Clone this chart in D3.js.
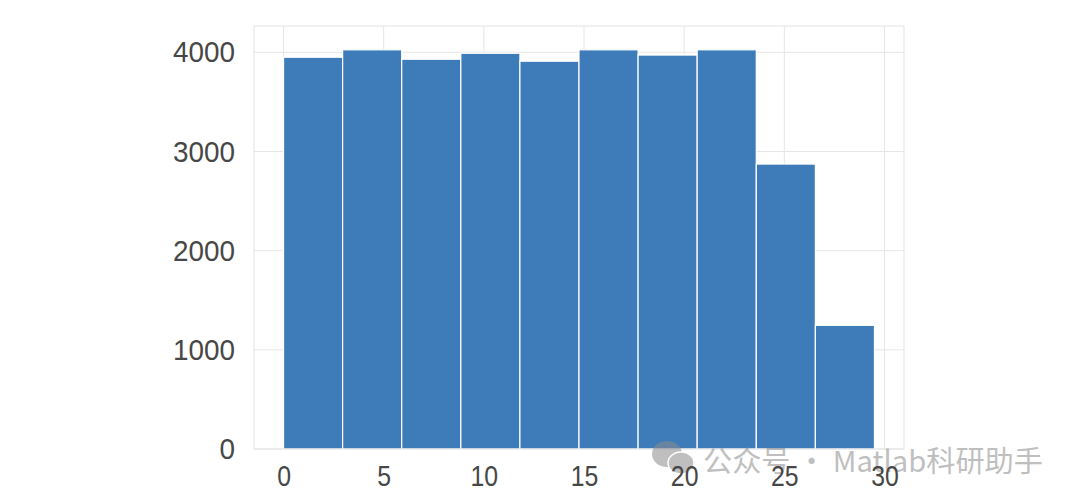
<!DOCTYPE html>
<html>
<head>
<meta charset="utf-8">
<script src="https://cdn.jsdelivr.net/npm/d3@7"></script>
<style>
  body { margin: 0; background: #fff; }
  svg { display: block; }
</style>
</head>
<body>
<svg id="chart"></svg>
<script>
var width = 1080,
    height = 504;

// histogram: 10 bins from 0 to 29.5
var binEdges = [0, 2.95, 5.9, 8.85, 11.8, 14.75, 17.7, 20.65, 23.6, 26.55, 29.5];
var counts = [3950, 4025, 3930, 3990, 3910, 4025, 3972, 4025, 2873, 1247];
var xTicks = [0, 5, 10, 15, 20, 25, 30];
var yTicks = [0, 1000, 2000, 3000, 4000];

var margin = {top: 26, right: 176, bottom: 55, left: 254};
var pw = width - margin.left - margin.right,
    ph = height - margin.top - margin.bottom;

var svg = d3.select("#chart")
    .attr("width", width)
    .attr("height", height);

var g = svg.append("g")
    .attr("transform", "translate(" + margin.left + "," + margin.top + ")");

// matplotlib-like 5% margin on x
var xr = binEdges[binEdges.length - 1] - binEdges[0];
var xScale = d3.scaleLinear()
    .domain([binEdges[0] - 0.05 * xr, binEdges[binEdges.length - 1] + 0.05 * xr])
    .range([0, pw]);
var yScale = d3.scaleLinear()
    .domain([0, 4265])
    .range([ph, 0]);

// grid
g.append("g").selectAll("line")
    .data(xTicks)
    .enter().append("line")
    .attr("x1", function(d) { return xScale(d); })
    .attr("x2", function(d) { return xScale(d); })
    .attr("y1", 0).attr("y2", ph)
    .style("stroke", "#e6e6e6").style("stroke-width", 1);

g.append("g").selectAll("line")
    .data(yTicks)
    .enter().append("line")
    .attr("y1", function(d) { return yScale(d); })
    .attr("y2", function(d) { return yScale(d); })
    .attr("x1", 0).attr("x2", pw)
    .style("stroke", "#e6e6e6").style("stroke-width", 1);

// bars
g.append("g").selectAll("rect")
    .data(counts)
    .enter().append("rect")
    .attr("x", function(d, i) { return xScale(binEdges[i]); })
    .attr("width", function(d, i) { return xScale(binEdges[i + 1]) - xScale(binEdges[i]); })
    .attr("y", function(d) { return yScale(d); })
    .attr("height", function(d) { return ph - yScale(d); })
    .style("fill", "#3e7cb9")
    .style("stroke", "#ffffff")
    .style("stroke-width", 1.2);

// frame
g.append("rect")
    .attr("x", 0).attr("y", 0)
    .attr("width", pw).attr("height", ph)
    .style("fill", "none")
    .style("stroke", "#e3e3e3")
    .style("stroke-width", 1);

// watermark (under the tick labels)
var wm = svg.append("g").attr("opacity", 0.55);
wm.append("ellipse").attr("cx", 667).attr("cy", 454).attr("rx", 15).attr("ry", 13).style("fill", "#8c8c8c");
wm.append("ellipse").attr("cx", 681).attr("cy", 463).attr("rx", 13).attr("ry", 11).style("fill", "#8c8c8c")
    .style("stroke", "#fff").style("stroke-width", 1.5);
wm.append("text")
    .attr("x", 703).attr("y", 472)
    .attr("textLength", 340)
    .attr("lengthAdjust", "spacingAndGlyphs")
    .style("font-family", "'Noto Sans CJK SC', sans-serif")
    .style("font-size", "29px")
    .style("fill", "#8c8c8c")
    .text("公众号 · Matlab科研助手");

// axes
var axes = svg.append("g")
    .attr("transform", "translate(" + margin.left + "," + margin.top + ")");
var xAxis = axes.append("g")
    .attr("transform", "translate(0," + ph + ")")
    .call(d3.axisBottom(xScale).tickValues(xTicks).tickFormat(d3.format("d")).tickSize(0).tickPadding(16));
var yAxis = axes.append("g")
    .call(d3.axisLeft(yScale).tickValues(yTicks).tickFormat(d3.format("d")).tickSize(0).tickPadding(19));

// the reference font is narrow: squeeze glyphs to match
[[xAxis, 13.8], [yAxis, 15.5]].forEach(function(p) {
    p[0].select(".domain").remove();
    p[0].selectAll("text")
        .style("font-family", "'Liberation Sans', Arial, sans-serif")
        .style("font-size", "30px")
        .style("fill", "#474747")
        .attr("textLength", function(d) { return String(d).length * p[1]; })
        .attr("lengthAdjust", "spacingAndGlyphs");
});
</script>
</body>
</html>
